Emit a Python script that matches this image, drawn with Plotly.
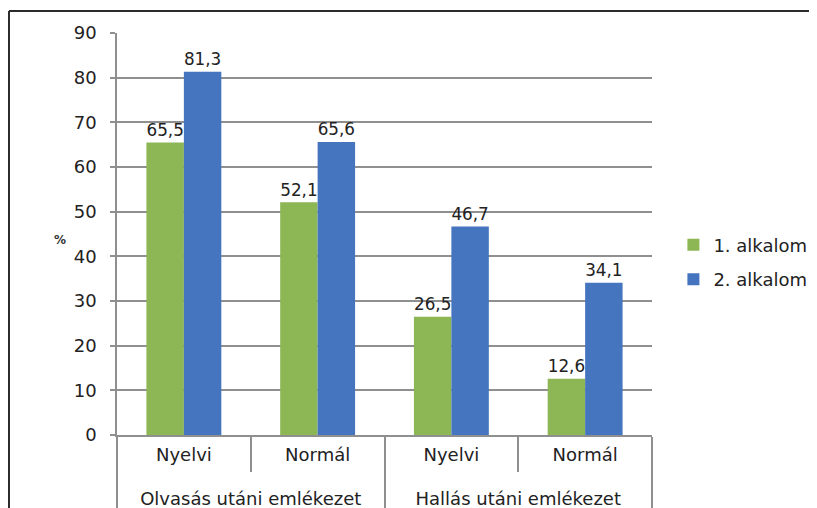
import plotly.graph_objects as go

# data
groups = ["Olvasás utáni emlékezet", "Olvasás utáni emlékezet",
          "Hallás utáni emlékezet", "Hallás utáni emlékezet"]
kinds = ["Nyelvi", "Normál", "Nyelvi", "Normál"]
first_time = [65.5, 52.1, 26.5, 12.6]
second_time = [81.3, 65.6, 46.7, 34.1]
series_names = ["1. alkalom", "2. alkalom"]
y_ticks = [0, 10, 20, 30, 40, 50, 60, 70, 80, 90]

GREEN = "#8DB655"
BLUE = "#4475BE"
GRID = "#8f8f8f"
INK = "#222222"
FONT = "DejaVu Sans, Arial, sans-serif"
FS = 18


def hu_label(v):
    # Hungarian decimal comma
    return f"{v:.1f}".replace(".", ",")


# outer labels sit one line lower than plotly would put them
outer = ["<br>" + g for g in groups]

fig = go.Figure()

for name, vals, color in [(series_names[0], first_time, GREEN),
                          (series_names[1], second_time, BLUE)]:
    fig.add_trace(go.Bar(
        x=[outer, kinds], y=vals, name=name, legendgroup=name,
        marker=dict(color=color, line=dict(width=0)),
        text=[hu_label(v) for v in vals], textposition="outside",
        textfont=dict(size=FS, color=INK, family=FONT),
        cliponaxis=False,
    ))

# outer frame (left and top edges visible in the reference)
fig.add_shape(type="line", xref="paper", yref="paper",
              x0=-0.2019, x1=-0.2019, y0=-0.3, y1=1.0547,
              line=dict(color="#2b2b2b", width=2))
fig.add_shape(type="line", xref="paper", yref="paper",
              x0=-0.2019, x1=1.35, y0=1.0547, y1=1.0547,
              line=dict(color="#2b2b2b", width=2))

fig.add_annotation(text="<b>%</b>", xref="paper", yref="paper",
                   x=-0.121, y=0.485, showarrow=False,
                   font=dict(size=12, color="#333333", family=FONT))

# page body has an 8px margin, so the margins are shifted by 8px
fig.update_layout(
    width=817, height=508,
    margin=dict(l=109, r=173, t=25, b=81),
    paper_bgcolor="white", plot_bgcolor="white",
    font=dict(family=FONT, size=FS, color=INK),
    barmode="group", bargap=0.44, bargroupgap=0,
    legend=dict(x=1.04, y=0.43, yanchor="middle", xanchor="left",
                font=dict(size=FS, color=INK),
                itemwidth=30, tracegroupgap=8),
    showlegend=True,
)

fig.update_xaxes(
    automargin=False,
    showline=True, linecolor=GRID, linewidth=1.5,
    ticks="outside", tickson="boundaries", ticklen=35,
    tickcolor=GRID, tickwidth=1.5,
    showdividers=True, dividercolor=GRID, dividerwidth=1.5,
    tickfont=dict(size=FS, color=INK),
    ticklabelstandoff=3,
)

fig.update_yaxes(
    automargin=False,
    range=[0, 90], tickvals=y_ticks,
    showgrid=True, gridcolor=GRID, gridwidth=1.5,
    showline=True, linecolor=GRID, linewidth=1.5,
    ticks="outside", ticklen=5, tickcolor=GRID, tickwidth=1.5,
    ticklabelstandoff=10,
    tickfont=dict(size=FS, color=INK),
    zeroline=False,
)

fig.write_html("out.html")
